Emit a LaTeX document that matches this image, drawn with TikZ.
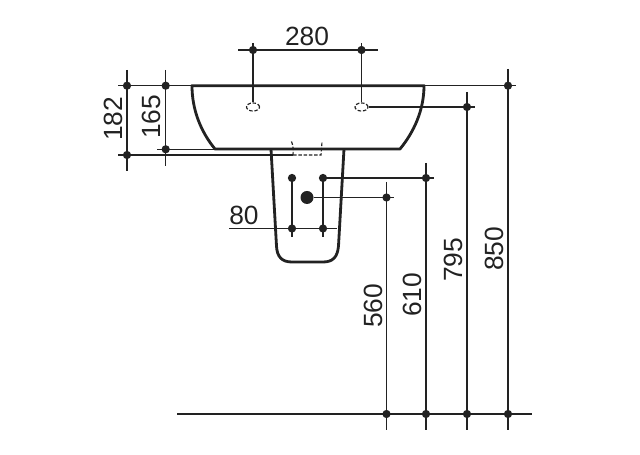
\documentclass[tikz,border=0pt]{standalone}
\usepackage{fontspec}
\usetikzlibrary{shapes.geometric}
\setmainfont{Liberation Sans}
\definecolor{inkdark}{HTML}{222222}
\tikzset{
	dimline/.style={inkdark, line width=0.75pt},
	outline/.style={inkdark, line width=1.6pt},
	hidden/.style={inkdark, line width=0.65pt, dash pattern=on 2pt off 1pt},
	dot/.style={circle, fill=inkdark, inner sep=0pt, minimum size=4.7pt},
	bigdot/.style={circle, fill=inkdark, inner sep=0pt, minimum size=7.4pt},
	hole/.style={draw, hidden, ellipse, minimum width=7.4pt, minimum height=4.6pt, inner sep=0pt},
	dimlabel/.style={inkdark, inner sep=0pt, font=\fontsize{15}{15}\selectfont}
}
\begin{document}
\begin{tikzpicture}[x=0.02cm, y=-0.02cm]
	\useasboundingbox (0, 0) rectangle (640, 455);

	% dots
	\node[dot] (topl) at (253, 50) {};
	\node[dot] (topr) at (361.5, 50) {};
	\node[dot] (outa) at (127, 85.7) {};
	\node[dot] (outb) at (165.7, 85.7) {};
	\node[dot] (outd) at (508, 85.7) {};
	\node[dot] (lowa) at (127, 155) {};
	\node[dot] (lowb) at (165.7, 149.3) {};
	\node[dot] (holed) at (467, 107) {};
	\node[dot] (fixa) at (292, 178) {};
	\node[dot] (fixb) at (323, 178) {};
	\node[dot] (fixc) at (292, 228.5) {};
	\node[dot] (fixd) at (323, 228.5) {};
	\node[dot] (fixe) at (426, 178) {};
	\node[bigdot] (waste) at (307, 197.5) {};
	\node[dot] (wasted) at (386.5, 197.5) {};
	\node[dot] (flra) at (386.5, 414) {};
	\node[dot] (flrb) at (426, 414) {};
	\node[dot] (flrc) at (467, 414) {};
	\node[dot] (flrd) at (508, 414) {};

	% holes
	\node[hole] (holel) at (253, 107) {};
	\node[hole] (holer) at (361.5, 107) {};

	% dimension lines
	\draw[dimline] (238, 50) -- (378, 50);
	\draw[dimline] (253, 43) -- (holel);
	\draw[dimline] (361.5, 43) -- (holer);
	\draw[dimline] (118, 85.7) -- (516, 85.7);
	\draw[dimline] (118, 155) -- (293, 155);
	\draw[dimline] (157, 149.3) -- (215, 149.3);
	\draw[dimline] (127, 70) -- (127, 171);
	\draw[dimline] (165.7, 70) -- (165.7, 166);
	\draw[dimline] (holer) -- (475, 107);
	\draw[dimline] (fixb) -- (434, 178);
	\draw[dimline] (waste) -- (394, 197.5);
	\draw[dimline] (229, 228.5) -- (337, 228.5);
	\draw[dimline] (fixa) -- (292, 237);
	\draw[dimline] (fixb) -- (323, 237);
	\draw[dimline] (386.5, 182) -- (386.5, 430);
	\draw[dimline] (426, 163) -- (426, 430);
	\draw[dimline] (467, 92) -- (467, 430);
	\draw[dimline] (508, 69) -- (508, 430);

	% hidden edge
	\draw[hidden] (293, 155) -- (321, 155) -- (322, 142);
	\draw[hidden] (291.5, 141.5) .. controls (293, 145) and (293.5, 150) .. (293, 155);

	% basin
	\draw[outline, line join=round] (192, 85.7) -- (424, 85.7) .. controls (424, 110) and (414, 132) .. (400, 149) -- (215, 149) .. controls (201, 132) and (192, 110) .. cycle;

	% pedestal
	\draw[outline] (271, 149) -- (276.5, 246) .. controls (277, 257) and (282, 262) .. (292, 262) -- (323, 262) .. controls (333, 262) and (337.5, 257) .. (338.5, 246) -- (344, 149);

	% floor
	\draw[inkdark, line width=1.2pt] (177, 414) -- (532, 414);

	% labels
	\node[dimlabel] (lbla) at (307, 36.5) {280};
	\node[dimlabel] (lblb) at (244, 215) {80};
	\node[dimlabel, rotate=90] (lblc) at (113, 119) {182};
	\node[dimlabel, rotate=90] (lbld) at (151, 117) {165};
	\node[dimlabel, rotate=90] (lble) at (373, 306) {560};
	\node[dimlabel, rotate=90] (lblf) at (412, 295) {610};
	\node[dimlabel, rotate=90] (lblg) at (453, 260) {795};
	\node[dimlabel, rotate=90] (lblh) at (494, 249) {850};

\end{tikzpicture}
\end{document}
